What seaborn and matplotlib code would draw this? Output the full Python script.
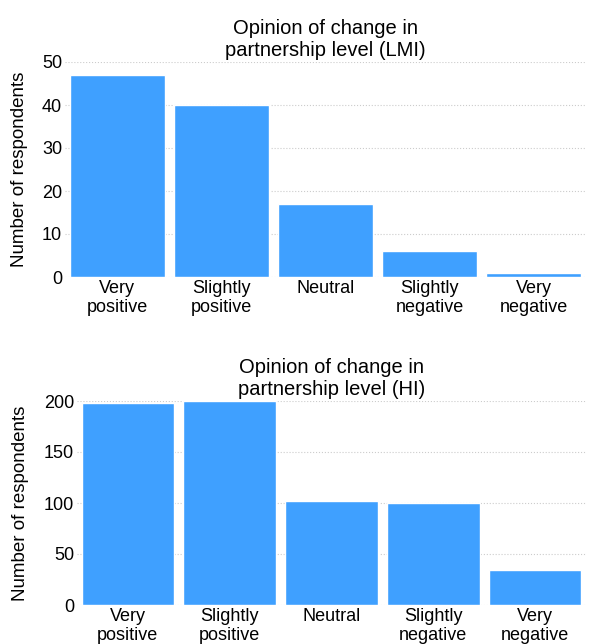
import matplotlib
matplotlib.use("Agg")
import matplotlib.pyplot as plt
import seaborn as sns
import pandas as pd

categories = ["Very\npositive", "Slightly\npositive", "Neutral", "Slightly\nnegative", "Very\nnegative"]
lmi_counts = [47, 40, 17, 6, 1]
hi_counts = [198, 200, 102, 100, 34]

sns.set_style("white")
plt.rcParams['font.family'] = ['Liberation Sans', 'DejaVu Sans']
plt.rcParams['text.color'] = 'black'
plt.rcParams['axes.labelcolor'] = 'black'
plt.rcParams['xtick.color'] = 'black'
plt.rcParams['ytick.color'] = 'black'

BAR = "#3fa0ff"
fig = plt.figure(figsize=(5.9, 6.44), dpi=100)
ax1 = fig.add_axes([65 / 590, 1 - 277 / 644, 521 / 590, 215 / 644])
ax2 = fig.add_axes([77 / 590, 1 - 605 / 644, 509 / 590, 204 / 644])

panels = [
    (ax1, lmi_counts, "Opinion of change in\npartnership level (LMI)", [0, 10, 20, 30, 40, 50], 10),
    (ax2, hi_counts, "Opinion of change in\npartnership level (HI)", [0, 50, 100, 150, 200], 11),
]
for ax, vals, title, ticks, lpad in panels:
    df = pd.DataFrame({"cat": categories, "n": vals})
    sns.barplot(data=df, x="cat", y="n", ax=ax, color=BAR, saturation=1, width=0.91)
    ax.set_ylim(0, ticks[-1])
    ax.set_xlim(-0.5, 4.5)
    ax.set_yticks(ticks)
    ax.yaxis.grid(True, linestyle=":", color="#cccccc", linewidth=0.8)
    ax.set_axisbelow(True)
    for s in ax.spines.values():
        s.set_visible(False)
    ax.tick_params(axis="both", length=0, labelsize=13, pad=2)
    ax.set_xlabel("")
    ax.set_ylabel("Number of respondents", fontsize=13.5, labelpad=lpad)
    ax.set_title(title, fontsize=14.5, pad=4)

fig.savefig("out.png", dpi=100)
